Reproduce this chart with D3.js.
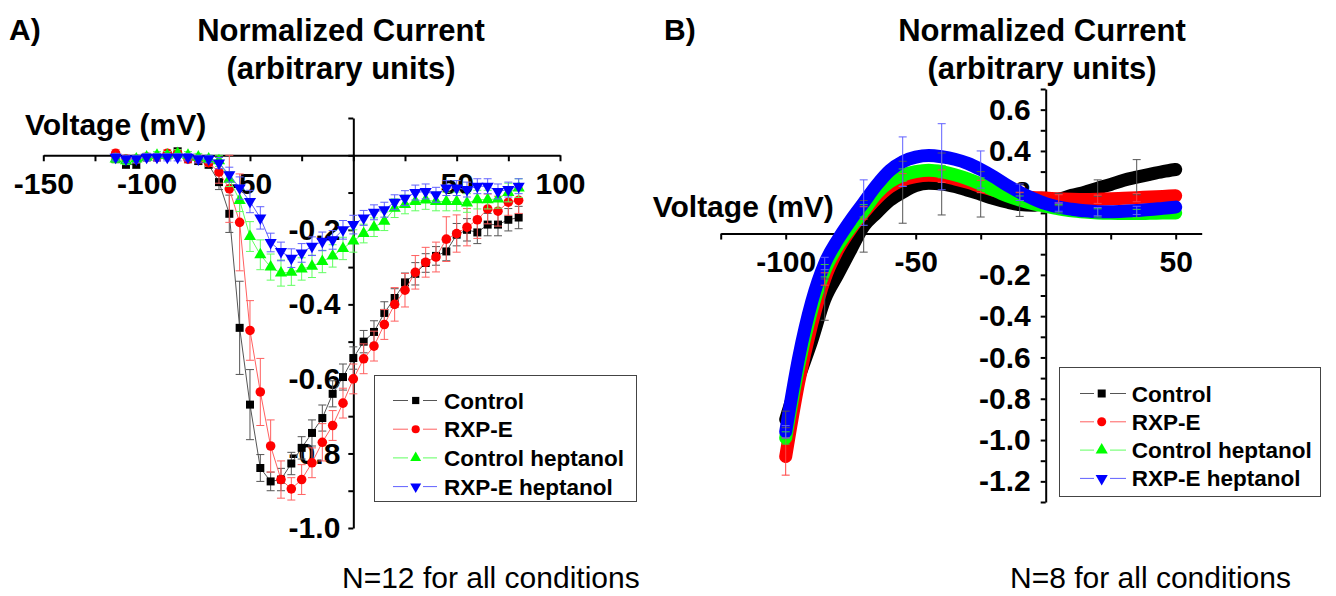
<!DOCTYPE html>
<html><head><meta charset="utf-8">
<script src="https://cdn.jsdelivr.net/npm/d3@7"></script>
<style>
body{margin:0;background:#fff}
text{font-family:"Liberation Sans",Arial,Helvetica,sans-serif}
</style>
</head><body>
<svg id="c" width="1336" height="596"></svg>
<script>
// ---------------- DATA ----------------
const seriesNames = ["Control", "RXP-E", "Control heptanol", "RXP-E heptanol"];
const seriesColors = ["#000000", "#ff0000", "#00ff00", "#0000ff"];
const thinColors = ["#555555", "#ff6060", "#60ff60", "#6060ff"];

// Panel A: voltage steps (mV)
const voltsA = [-115,-110,-105,-100,-95,-90,-85,-80,-75,-70,-65,-60,-55,-50,-45,-40,-35,-30,-25,-20,-15,-10,-5,0,5,10,15,20,25,30,35,40,45,50,55,60,65,70,75,80];
const controlA = [-0.01,-0.025,-0.025,-0.005,-0.005,0.0,0.01,-0.01,-0.015,-0.025,
  -0.072,-0.157,-0.463,-0.669,-0.839,-0.875,-0.87,-0.827,-0.785,-0.745,-0.705,-0.64,-0.595,-0.544,
  -0.50,-0.474,-0.423,-0.383,-0.341,-0.318,-0.289,-0.27,-0.258,-0.213,-0.20,-0.207,-0.186,-0.186,-0.173,-0.167];
const rxpA = [0.005,-0.01,-0.01,-0.005,-0.005,0.005,0.005,-0.01,-0.01,-0.02,
  -0.045,-0.09,-0.18,-0.47,-0.635,-0.78,-0.87,-0.895,-0.87,-0.825,-0.77,-0.725,-0.665,-0.60,
  -0.546,-0.512,-0.454,-0.40,-0.362,-0.314,-0.287,-0.273,-0.225,-0.21,-0.193,-0.173,-0.144,-0.15,-0.126,-0.121];
const ctrlHepA = [-0.01,-0.015,-0.01,-0.005,0.0,0.0,0.005,0.0,-0.005,-0.01,
  -0.015,-0.064,-0.121,-0.218,-0.267,-0.30,-0.316,-0.314,-0.305,-0.298,-0.285,-0.27,-0.25,-0.23,
  -0.21,-0.193,-0.177,-0.142,-0.132,-0.124,-0.12,-0.124,-0.124,-0.124,-0.128,-0.119,-0.119,-0.117,-0.10,-0.088];
const rxpHepA = [-0.005,-0.01,-0.01,-0.005,-0.005,-0.005,-0.005,-0.005,-0.01,-0.01,
  -0.021,-0.052,-0.088,-0.124,-0.168,-0.234,-0.258,-0.276,-0.262,-0.244,-0.231,-0.227,-0.20,-0.186,
  -0.168,-0.153,-0.146,-0.126,-0.115,-0.10,-0.097,-0.106,-0.088,-0.088,-0.092,-0.083,-0.083,-0.097,-0.092,-0.083];
const errControlA = [0.01,0.01,0.01,0.01,0.01,0.01,0.01,0.01,0.01,0.01,
  0.02,0.05,0.125,0.094,0.036,0.025,0.03,0.03,0.03,0.035,0.035,0.035,0.035,0.03,
  0.03,0.03,0.03,0.025,0.025,0.03,0.025,0.025,0.025,0.03,0.03,0.03,0.03,0.03,0.03,0.03];
const errRxpA = [0.01,0.01,0.01,0.01,0.01,0.01,0.01,0.01,0.01,0.01,
  0.03,0.09,0.13,0.08,0.09,0.07,0.05,0.03,0.04,0.04,0.05,0.04,0.04,0.04,
  0.04,0.04,0.04,0.045,0.045,0.045,0.04,0.04,0.06,0.05,0.05,0.05,0.04,0.04,0.035,0.035];
const errCtrlHepA = [0.01,0.01,0.01,0.01,0.01,0.01,0.01,0.01,0.01,0.01,
  0.015,0.02,0.03,0.04,0.04,0.035,0.035,0.035,0.03,0.03,0.03,0.03,0.03,0.03,
  0.025,0.025,0.025,0.025,0.025,0.025,0.025,0.025,0.025,0.025,0.025,0.025,0.025,0.025,0.025,0.025];
const errRxpHepA = [0.01,0.01,0.01,0.01,0.01,0.01,0.01,0.01,0.01,0.01,
  0.015,0.02,0.03,0.03,0.03,0.025,0.025,0.025,0.025,0.025,0.025,0.025,0.025,0.025,
  0.02,0.02,0.02,0.02,0.02,0.02,0.02,0.02,0.02,0.02,0.02,0.02,0.02,0.02,0.02,0.02];

const xTicksA = [-150,-125,-100,-75,-50,-25,0,25,50,75,100];
const xLabelsA = [-150,-100,-50,50,100];
const yTicksA = [0.1,0,-0.1,-0.2,-0.3,-0.4,-0.5,-0.6,-0.7,-0.8,-0.9,-1.0];
const yLabelsA = [-0.2,-0.4,-0.6,-0.8,-1.0];

// Panel B: ramp (mV)
const voltsB = [-100,-95,-90,-85,-80,-75,-70,-65,-60,-55,-50,-45,-40,-35,-30,-25,-20,-15,-10,-5,0,5,10,15,20,25,30,35,40,45,50];
const controlB = [-0.90,-0.70,-0.52,-0.32,-0.20,-0.08,0.035,0.10,0.16,0.20,0.232,
  0.243,0.24,0.228,0.21,0.19,0.17,0.153,0.14,0.137,0.148,
  0.165,0.185,0.20,0.22,0.238,0.258,0.273,0.287,0.30,0.31];
const rxpB = [-1.08,-0.72,-0.44,-0.22,-0.08,0.02,0.10,0.17,0.225,0.26,0.276,
  0.282,0.278,0.265,0.248,0.228,0.21,0.193,0.18,0.175,0.172,
  0.168,0.166,0.165,0.166,0.168,0.171,0.174,0.177,0.18,0.183];
const ctrlHepB = [-0.99,-0.64,-0.37,-0.18,-0.06,0.03,0.11,0.195,0.25,0.283,0.30,
  0.307,0.30,0.285,0.265,0.24,0.21,0.183,0.162,0.145,0.132,
  0.12,0.11,0.104,0.10,0.098,0.097,0.097,0.098,0.099,0.10];
const rxpHepB = [-0.96,-0.60,-0.33,-0.145,-0.03,0.065,0.15,0.235,0.305,0.348,0.37,
  0.378,0.372,0.36,0.34,0.31,0.275,0.235,0.20,0.17,0.145,
  0.128,0.118,0.11,0.106,0.106,0.108,0.112,0.116,0.122,0.128];
const errVoltsB = [-100,-85,-70,-55,-40,-25,-10,5,20,35];
const errControlB = [0.04,0.10,0.125,0.15,0.15,0.11,0.057,0.03,0.04,0.085];
const errRxpB = [0.09,0.03,0.03,0.03,0.03,0.03,0.02,0.02,0.02,0.02];
const errCtrlHepB = [0.03,0.03,0.03,0.03,0.03,0.03,0.02,0.02,0.02,0.02];
const errRxpHepB = [0.03,0.03,0.11,0.12,0.16,0.09,0.04,0.02,0.02,0.02];

const xTicksB = [-125,-100,-75,-50,-25,0,25,50];
const xLabelsB = [-100,-50,50];
const yTicksB = [0.7,0.6,0.5,0.4,0.3,0.2,0.1,0,-0.1,-0.2,-0.3,-0.4,-0.5,-0.6,-0.7,-0.8,-0.9,-1.0,-1.1,-1.2,-1.3];
const yLabelsB = [0.6,0.4,0.2,-0.2,-0.4,-0.6,-0.8,-1.0,-1.2];

// ---------------- DRAW ----------------
const svg = d3.select("#c");
const near = (arr, d) => arr.some(v => Math.abs(v - d) < 1e-9);
const symbols = [d3.symbolSquare, d3.symbolCircle, d3.symbolTriangle, d3.symbolTriangle];
const symRot = [0, 0, 0, 180];

function styleAxis(g, fs) {
  g.select(".domain").attr("stroke", "#000").attr("stroke-width", 2);
  g.selectAll(".tick line").attr("stroke", "#000").attr("stroke-width", 2);
  g.selectAll(".tick text").attr("fill", "#000").attr("font-size", fs).attr("font-weight", "bold")
    .attr("font-family", '"Liberation Sans",Arial,sans-serif');
}

function sym(i, size) {
  return d3.symbol().type(symbols[i]).size(size)();
}

// ---- Panel A ----
(function(){
  const x = d3.scaleLinear().domain([-150, 100]).range([43.3, 560]);
  const y = d3.scaleLinear().domain([-1.0, 0.1]).range([528, 118]);
  const g = svg.append("g");
  const gx = g.append("g").attr("transform", `translate(0,${y(0)})`)
    .call(d3.axisBottom(x).tickValues(xTicksA).tickSize(6).tickSizeOuter(0).tickPadding(11)
      .tickFormat(d => near(xLabelsA, d) ? String(d) : ""));
  styleAxis(gx, 30);
  const gy = g.append("g").attr("transform", `translate(${x(0)},0)`)
    .call(d3.axisLeft(y).tickValues(yTicksA).tickSize(5).tickSizeOuter(0).tickPadding(8)
      .tickFormat(d => near(yLabelsA, d) ? d.toFixed(1) : ""));
  styleAxis(gy, 30);

  const data = [controlA, rxpA, ctrlHepA, rxpHepA];
  const errs = [errControlA, errRxpA, errCtrlHepA, errRxpHepA];
  const line = d3.line().x((d, i) => x(voltsA[i])).y(d => y(d));
  data.forEach((vals, s) => {
    const sg = g.append("g");
    sg.append("path").attr("d", line(vals)).attr("fill", "none")
      .attr("stroke", thinColors[s]).attr("stroke-width", 1);
    const eb = sg.append("g").attr("stroke", thinColors[s]).attr("stroke-width", 1);
    vals.forEach((v, i) => {
      const cx = x(voltsA[i]), e = errs[s][i];
      eb.append("line").attr("x1", cx).attr("x2", cx).attr("y1", y(v - e)).attr("y2", y(v + e));
      eb.append("line").attr("x1", cx - 4).attr("x2", cx + 4).attr("y1", y(v - e)).attr("y2", y(v - e));
      eb.append("line").attr("x1", cx - 4).attr("x2", cx + 4).attr("y1", y(v + e)).attr("y2", y(v + e));
    });
    const sizes = [64, 72, 64, 64];
    sg.selectAll("path.m").data(vals).enter().append("path").attr("class", "m")
      .attr("d", sym(s, sizes[s]))
      .attr("transform", (d, i) => `translate(${x(voltsA[i])},${y(d)}) rotate(${symRot[s]})`)
      .attr("fill", seriesColors[s]);
  });

  // legend
  const lg = g.append("g");
  lg.append("rect").attr("x", 374.5).attr("y", 375.5).attr("width", 262).attr("height", 126)
    .attr("fill", "#fff").attr("stroke", "#444").attr("stroke-width", 1);
  seriesNames.forEach((n, i) => {
    const cy = 400.5 + i * 28.7;
    lg.append("line").attr("x1", 393).attr("x2", 408).attr("y1", cy).attr("y2", cy).attr("stroke", thinColors[i]);
    lg.append("line").attr("x1", 423).attr("x2", 437).attr("y1", cy).attr("y2", cy).attr("stroke", thinColors[i]);
    lg.append("path").attr("d", sym(i, 52)).attr("transform", `translate(415.7,${cy}) rotate(${symRot[i]})`)
      .attr("fill", seriesColors[i]);
    lg.append("text").attr("x", 444).attr("y", cy + 8).attr("font-size", 22.5).attr("font-weight", "bold").text(n);
  });

  svg.append("text").attr("x", 9).attr("y", 40).attr("font-size", 30).attr("font-weight", "bold").text("A)");
  svg.append("text").attr("x", 341).attr("y", 41).attr("text-anchor", "middle").attr("font-size", 31).attr("font-weight", "bold").text("Normalized Current");
  svg.append("text").attr("x", 341).attr("y", 79).attr("text-anchor", "middle").attr("font-size", 31).attr("font-weight", "bold").text("(arbitrary units)");
  svg.append("text").attr("x", 25).attr("y", 135).attr("font-size", 30).attr("font-weight", "bold").text("Voltage (mV)");
  svg.append("text").attr("x", 342).attr("y", 588).attr("font-size", 30).text("N=12 for all conditions");
})();

// ---- Panel B ----
(function(){
  const x = d3.scaleLinear().domain([-125, 60]).range([720.7, 1201.7]);
  const y = d3.scaleLinear().domain([-1.3, 0.7]).range([502, 89]);
  const g = svg.append("g");
  const gx = g.append("g").attr("transform", `translate(0,${y(0)})`)
    .call(d3.axisBottom(x).tickValues(xTicksB).tickSize(6).tickSizeOuter(0).tickPadding(11)
      .tickFormat(d => near(xLabelsB, d) ? String(d) : ""));
  styleAxis(gx, 30);
  const gy = g.append("g").attr("transform", `translate(${x(0)},0)`)
    .call(d3.axisLeft(y).tickValues(yTicksB).tickSize(5).tickSizeOuter(0).tickPadding(10)
      .tickFormat(d => near(yLabelsB, d) ? d.toFixed(1) : ""));
  styleAxis(gy, 30);

  svg.append("text").attr("x", 652.7).attr("y", 217).attr("font-size", 30).attr("font-weight", "bold").text("Voltage (mV)");

  const data = [controlB, rxpB, ctrlHepB, rxpHepB];
  const errs = [errControlB, errRxpB, errCtrlHepB, errRxpHepB];
  const line = d3.line().x((d, i) => x(voltsB[i])).y(d => y(d)).curve(d3.curveMonotoneX);
  data.forEach((vals, s) => {
    g.append("path").attr("d", line(vals)).attr("fill", "none")
      .attr("stroke", seriesColors[s]).attr("stroke-width", 13)
      .attr("stroke-linecap", "round").attr("stroke-linejoin", "round");
  });
  const ebColors = ["#555555", "#ff4040", "#30d030", "#6060ff"];
  data.forEach((vals, s) => {
    const eb = g.append("g").attr("stroke", ebColors[s]).attr("stroke-width", 1);
    errVoltsB.forEach((ev, k) => {
      const idx = voltsB.indexOf(ev);
      const v = vals[idx], e = errs[s][k], cx = x(ev);
      eb.append("line").attr("x1", cx).attr("x2", cx).attr("y1", y(v - e)).attr("y2", y(v + e));
      eb.append("line").attr("x1", cx - 4).attr("x2", cx + 4).attr("y1", y(v - e)).attr("y2", y(v - e));
      eb.append("line").attr("x1", cx - 4).attr("x2", cx + 4).attr("y1", y(v + e)).attr("y2", y(v + e));
    });
  });

  const lg = g.append("g");
  lg.append("rect").attr("x", 1059.5).attr("y", 367.5).attr("width", 261).attr("height", 129)
    .attr("fill", "#fff").attr("stroke", "#444").attr("stroke-width", 1);
  seriesNames.forEach((n, i) => {
    const cy = 393.5 + i * 28.3;
    lg.append("line").attr("x1", 1080).attr("x2", 1094).attr("y1", cy).attr("y2", cy).attr("stroke", thinColors[i]);
    lg.append("line").attr("x1", 1110).attr("x2", 1126).attr("y1", cy).attr("y2", cy).attr("stroke", thinColors[i]);
    lg.append("path").attr("d", sym(i, 64)).attr("transform", `translate(1101.7,${cy}) rotate(${symRot[i]})`)
      .attr("fill", seriesColors[i]);
    lg.append("text").attr("x", 1131.7).attr("y", cy + 8).attr("font-size", 22.5).attr("font-weight", "bold").text(n);
  });

  svg.append("text").attr("x", 664).attr("y", 40).attr("font-size", 30).attr("font-weight", "bold").text("B)");
  svg.append("text").attr("x", 1042).attr("y", 41).attr("text-anchor", "middle").attr("font-size", 31).attr("font-weight", "bold").text("Normalized Current");
  svg.append("text").attr("x", 1042).attr("y", 79).attr("text-anchor", "middle").attr("font-size", 31).attr("font-weight", "bold").text("(arbitrary units)");
  svg.append("text").attr("x", 1010).attr("y", 588).attr("font-size", 30).text("N=8 for all conditions");
})();
</script>
</body></html>
